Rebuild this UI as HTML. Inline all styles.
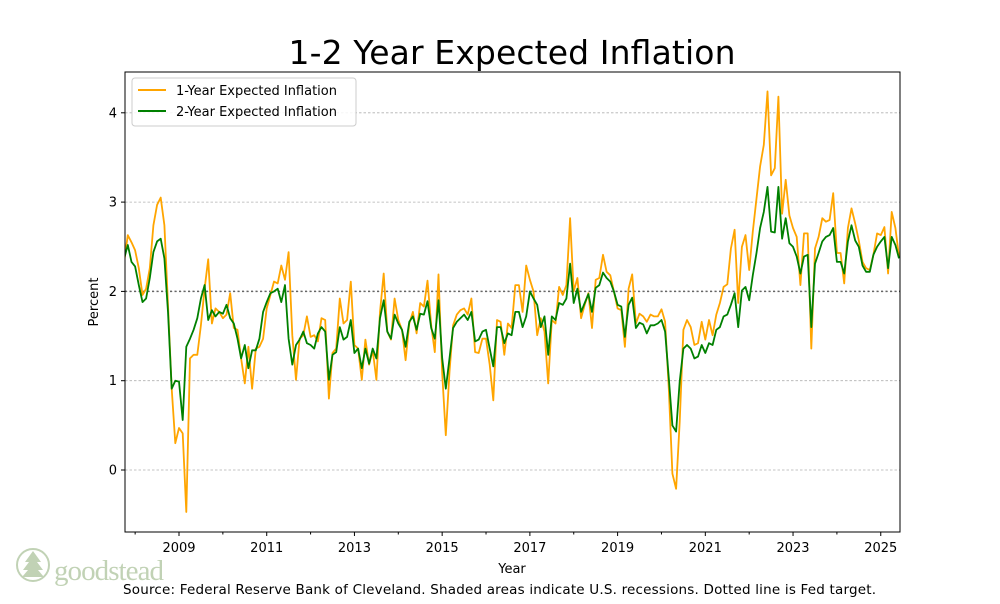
<!DOCTYPE html>
<html><head><meta charset="utf-8"><style>
body{margin:0;background:#fff;width:1000px;height:600px;overflow:hidden;font-family:"DejaVu Sans","Liberation Sans",sans-serif}
svg text{font-family:"DejaVu Sans","Liberation Sans",sans-serif}
</style></head><body>
<svg id="chart" width="1000" height="600" xmlns="http://www.w3.org/2000/svg">
<rect width="1000" height="600" fill="#fff"/>
<text x="512" y="64" font-size="33" text-anchor="middle" fill="#000" textLength="447">1-2 Year Expected Inflation</text>
<g id="grid"></g>
<g id="series"></g>
<rect x="125" y="72" width="775" height="460" fill="none" stroke="#000" stroke-width="1"/>
<g id="axes"></g>
<text transform="translate(98,302) rotate(-90)" font-size="13" text-anchor="middle">Percent</text>
<text x="512" y="573" font-size="13" text-anchor="middle">Year</text>
<text x="123" y="594" font-size="13.5" textLength="753">Source: Federal Reserve Bank of Cleveland. Shaded areas indicate U.S. recessions. Dotted line is Fed target.</text>
<g>
<rect x="132" y="78" width="224" height="48" rx="3" fill="#fff" fill-opacity="0.85" stroke="#ccc"/>
<line x1="138" y1="90" x2="166" y2="90" stroke="#FFA500" stroke-width="2"/>
<text x="176" y="95" font-size="13">1-Year Expected Inflation</text>
<line x1="138" y1="111" x2="166" y2="111" stroke="#008000" stroke-width="2"/>
<text x="176" y="116" font-size="13">2-Year Expected Inflation</text>
</g>
<g opacity="0.55">
<circle cx="33" cy="565" r="16" fill="none" stroke="#8fae7a" stroke-width="2"/>
<path d="M33 551 L25 562 L29 562 L23 570 L28 570 L22 577 L44 577 L38 570 L43 570 L37 562 L41 562 Z" fill="#8fae7a"/>
<text x="54" y="580" font-size="29" fill="#8fae7a" textLength="110" style="font-family:'Liberation Serif',serif">goodstead</text>
</g>
</svg>
<script>
const startYear = 2007, startMonth = 10;
const oneYear = [2.33,2.63,2.55,2.46,2.26,1.96,2.03,2.26,2.74,2.97,3.05,2.74,1.85,0.91,0.30,0.47,0.41,-0.47,1.25,1.29,1.29,1.62,2.03,2.36,1.64,1.81,1.77,1.70,1.74,1.98,1.59,1.57,1.25,0.97,1.38,0.91,1.36,1.38,1.47,1.81,1.96,2.11,2.09,2.29,2.13,2.44,1.51,1.01,1.47,1.51,1.72,1.49,1.51,1.44,1.70,
1.68,0.80,1.31,1.36,1.92,1.64,1.68,2.11,1.40,1.36,1.01,1.46,1.18,1.34,1.01,1.77,2.20,1.55,1.46,1.92,1.68,1.57,1.23,1.64,1.77,1.53,1.87,1.83,2.12,1.62,1.32,2.19,1.08,0.39,1.10,1.62,1.74,1.79,1.81,1.74,1.92,1.32,1.31,1.47,1.47,1.18,0.78,1.68,1.66,1.29,1.64,1.59,2.07,
2.07,1.77,2.29,2.13,2.00,1.51,1.70,1.55,0.97,1.68,1.64,2.05,1.96,2.07,2.82,2.00,2.15,1.70,1.85,1.98,1.59,2.13,2.15,2.41,2.22,2.18,2.00,1.81,1.79,1.38,2.03,2.19,1.64,1.75,1.72,1.66,1.74,1.72,1.72,1.80,1.66,0.91,-0.04,-0.21,0.54,1.57,1.68,1.60,1.40,1.42,1.66,1.46,1.68,1.51,
1.74,1.87,2.05,2.08,2.48,2.69,1.87,2.50,2.63,2.24,2.67,3.04,3.40,3.64,4.24,3.30,3.38,4.18,2.87,3.25,2.85,2.71,2.61,2.07,2.65,2.65,1.36,2.48,2.61,2.82,2.78,2.80,3.10,2.43,2.43,2.09,2.71,2.93,2.76,2.57,2.33,2.26,2.24,2.41,2.65,2.63,2.72,2.20,2.89,2.71,2.39];
const twoYear = [2.37,2.52,2.33,2.28,2.07,1.88,1.92,2.15,2.44,2.56,2.59,2.37,1.77,0.91,1.00,0.99,0.56,1.38,1.47,1.57,1.70,1.92,2.07,1.68,1.79,1.72,1.77,1.75,1.85,1.70,1.64,1.47,1.25,1.40,1.14,1.34,1.34,1.47,1.77,1.88,1.98,2.00,2.03,1.88,2.07,1.47,1.18,1.40,1.46,1.55,1.42,1.40,1.36,1.53,1.60,
1.55,1.01,1.29,1.32,1.60,1.46,1.49,1.68,1.31,1.36,1.14,1.36,1.19,1.36,1.25,1.70,1.90,1.55,1.47,1.74,1.64,1.57,1.38,1.66,1.72,1.57,1.75,1.74,1.89,1.59,1.47,1.90,1.25,0.91,1.25,1.59,1.66,1.70,1.74,1.68,1.77,1.44,1.46,1.55,1.57,1.36,1.16,1.60,1.60,1.42,1.53,1.51,1.77,
1.77,1.60,1.72,2.00,1.92,1.85,1.60,1.72,1.29,1.72,1.68,1.87,1.85,1.92,2.31,1.87,2.03,1.77,1.87,1.97,1.77,2.04,2.07,2.21,2.15,2.11,2.00,1.85,1.83,1.49,1.85,1.93,1.59,1.65,1.63,1.53,1.62,1.62,1.64,1.68,1.55,1.03,0.50,0.43,0.99,1.36,1.40,1.36,1.25,1.27,1.40,1.31,1.42,1.40,
1.57,1.60,1.72,1.74,1.85,1.98,1.60,2.01,2.05,1.90,2.18,2.43,2.71,2.89,3.17,2.67,2.66,3.17,2.59,2.82,2.54,2.50,2.39,2.20,2.39,2.41,1.60,2.31,2.43,2.56,2.61,2.63,2.71,2.33,2.33,2.20,2.56,2.74,2.57,2.50,2.29,2.22,2.22,2.41,2.50,2.56,2.61,2.26,2.61,2.52,2.37];
const yTicks = [0,1,2,3,4];
const xLabels = [2009,2011,2013,2015,2017,2019,2021,2023,2025];
const xMinor = [2008,2010,2012,2014,2016,2018,2020,2022,2024];
const target = 2;

const NS='http://www.w3.org/2000/svg';
const L=125,R=900,T=72,B=532;
const xs = t => 179 + (t-2009)*43.86;
const ys = v => 470 - v*89.3;
function mk(tag, attrs, parent){const e=document.createElementNS(NS,tag);for(const k in attrs)e.setAttribute(k,attrs[k]);parent.appendChild(e);return e;}
const grid=document.getElementById('grid'), axes=document.getElementById('axes'), ser=document.getElementById('series');
yTicks.forEach(v=>{
  const y=ys(v);
  const g=mk('line',{x1:L,x2:R,y1:y,y2:y,stroke:'#b0b0b0','stroke-width':0.8,'stroke-dasharray':'2.5,2'},grid);
  
  
  mk('line',{x1:L-4,x2:L,y1:y,y2:y,stroke:'#000'},axes);
  const t=mk('text',{x:L-8,y:y+4.5,'font-size':13,'text-anchor':'end'},axes);
  t.textContent=v;
  
  
});
const tl=mk('line',{x1:L,x2:R,y1:ys(target),y2:ys(target),stroke:'#666','stroke-width':1.5,'stroke-dasharray':'2,2.5'},grid);


xLabels.forEach(yr=>{
  const x=xs(yr);
  mk('line',{x1:x,x2:x,y1:B,y2:B+4,stroke:'#000'},axes);
  const t=mk('text',{x:x,y:B+20,'font-size':13,'text-anchor':'middle'},axes);
  t.textContent=yr;
  
  
});
xMinor.forEach(yr=>{const x=xs(yr);mk('line',{x1:x,x2:x,y1:B,y2:B+2.5,stroke:'#000'},axes);});
function tOf(i){const m=startMonth-1+i;return startYear+Math.floor(m/12)+(m%12)/12;}
function line(vals,color,name){
  const d=vals.map((v,i)=>(i?'L':'M')+xs(tOf(i)).toFixed(1)+' '+ys(v).toFixed(1)).join(' ');
  const p=mk('path',{d:d,fill:'none',stroke:color,'stroke-width':1.8,'stroke-linejoin':'round'},ser);
  
  
}
mk('clipPath',{id:'clip'},ser.parentNode).appendChild(document.createElementNS(NS,'rect'));
const cr=document.querySelector('#clip rect');cr.setAttribute('x',L);cr.setAttribute('y',T);cr.setAttribute('width',R-L);cr.setAttribute('height',B-T);
ser.setAttribute('clip-path','url(#clip)');
line(oneYear,'#FFA500','one-year-line');
line(twoYear,'#008000','two-year-line');
</script>
</body></html>
